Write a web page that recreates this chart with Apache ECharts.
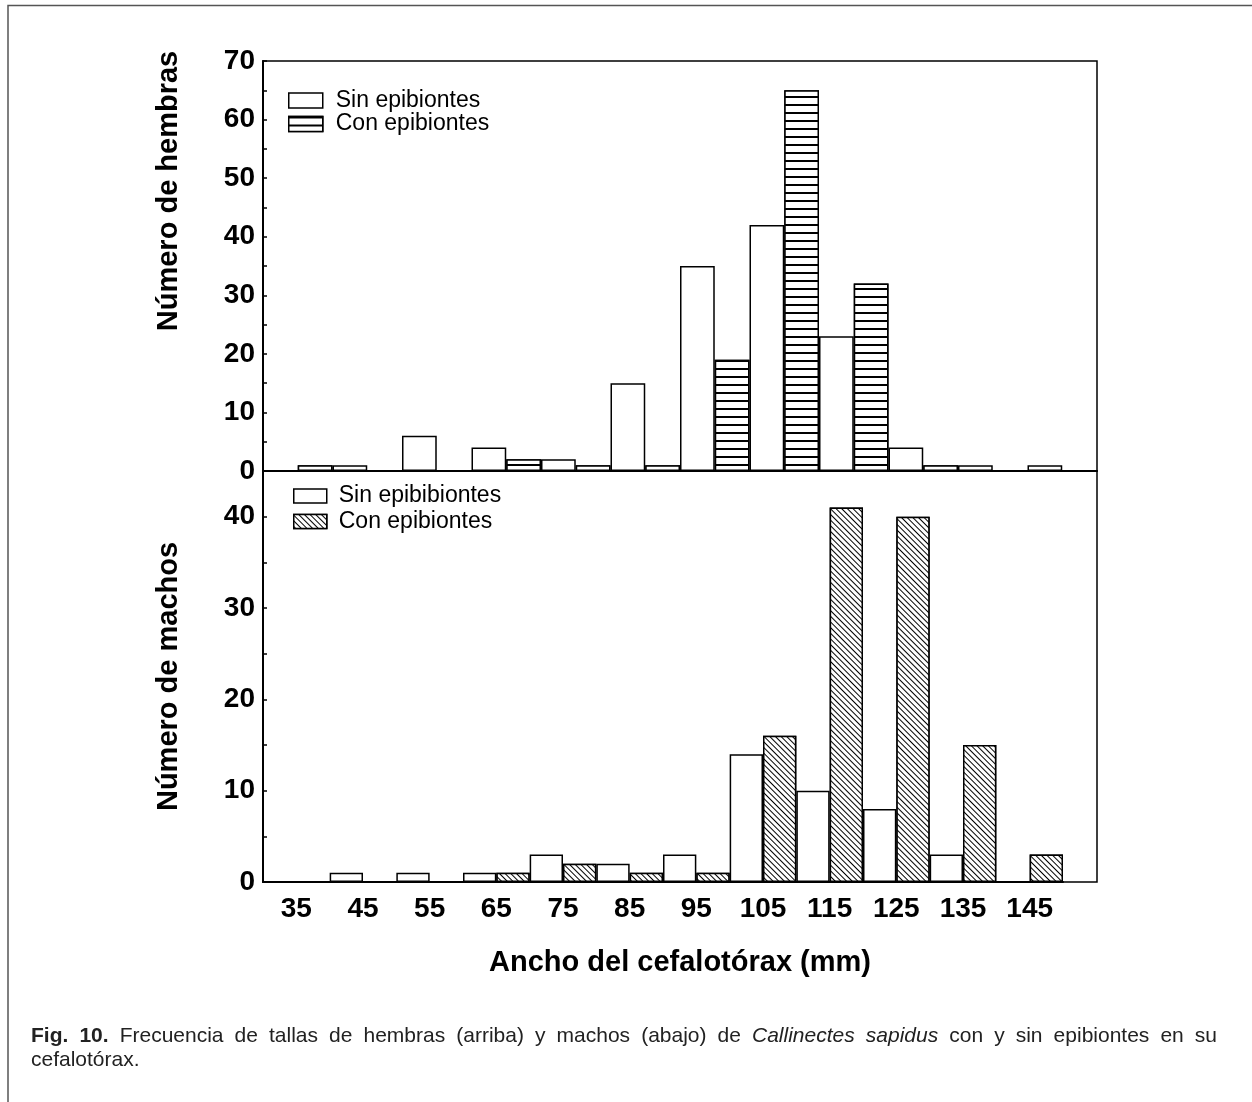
<!DOCTYPE html>
<html><head><meta charset="utf-8">
<script src="https://cdn.jsdelivr.net/npm/echarts@6/dist/echarts.min.js"></script>
<style>html,body{margin:0;padding:0;background:#fff}#c{width:1252px;height:1102px}</style>
</head><body><div id="c"></div>
<script>
// ---- data ----
const categories = ['35','45','55','65','75','85','95','105','115','125','135','145'];
const hembrasSin = [0, 1, 6, 4, 2, 15, 35, 42, 23, 4, 1, 1];
const hembrasCon = [1, 0, 0, 2, 1, 1, 19, 65, 32, 1, 0, 0];
const machosSin  = [0, 1, 1, 1, 3, 2, 3, 14, 10, 8, 3, 0];
const machosCon  = [0, 0, 0, 1, 2, 1, 1, 16, 41, 40, 15, 3];
const legendTop = ['Sin epibiontes', 'Con epibiontes'];
const legendBottom = ['Sin epibibiontes', 'Con epibiontes'];
const yTitleTop = 'Número de hembras';
const yTitleBottom = 'Número de machos';
const xTitle = 'Ancho del cefalotórax (mm)';
const captionLine1 = [['Fig.', 'bold'], ['10.', 'bold'], ['Frecuencia'], ['de'], ['tallas'], ['de'], ['hembras'],
  ['(arriba)'], ['y'], ['machos'], ['(abajo)'], ['de'], ['Callinectes', 'normal', 'italic'], ['sapidus', 'normal', 'italic'],
  ['con'], ['y'], ['sin'], ['epibiontes'], ['en'], ['su']];
const captionLine2 = 'cefalotórax.';

// ---- styles ----
const FONT = '"Liberation Sans", Arial, Helvetica, sans-serif';
const black = '#000';
const decalH = { symbol: 'rect', symbolSize: 1, color: '#000', backgroundColor: '#fff',
  dashArrayX: [1, 0], dashArrayY: [1.6, 5.2], rotation: 0 };
const decalD = { symbol: 'rect', symbolSize: 1, color: '#000', backgroundColor: '#fff',
  dashArrayX: [1, 0], dashArrayY: [1, 2.8], rotation: Math.PI / 4 };

const chart = echarts.init(document.getElementById('c'), null, { renderer: 'canvas' });

// justified caption words
const cv = document.createElement('canvas').getContext('2d');
const CAP_SIZE = 21;
function fontStr(w, s) { return `${s || 'normal'} ${w || 'normal'} ${CAP_SIZE}px ${FONT}`; }
const capLeft = 31, capRight = 1217;
let widths = captionLine1.map(t => { cv.font = fontStr(t[1], t[2]); return cv.measureText(t[0]).width; });
const totalW = widths.reduce((a, b) => a + b, 0);
const gap = (capRight - capLeft - totalW) / (captionLine1.length - 1);
const graphics = [];
let cx = capLeft;
captionLine1.forEach((t, i) => {
  graphics.push({ type: 'text', x: cx, y: 1036, silent: true,
    style: { text: t[0], font: fontStr(t[1], t[2]), fill: '#222', verticalAlign: 'middle', align: 'left' } });
  cx += widths[i] + gap;
});
graphics.push({ type: 'text', x: capLeft, y: 1060, silent: true,
  style: { text: captionLine2, font: fontStr(), fill: '#222', verticalAlign: 'middle', align: 'left' } });
// outer figure frame
graphics.push({ type: 'rect', silent: true, z: -1, shape: { x: 8, y: 5.5, width: 1400, height: 1300 },
  style: { fill: 'none', stroke: '#555', lineWidth: 1.5 } });

const axisLbl = { color: black, fontFamily: FONT, fontWeight: 'bold', fontSize: 28 };
const yBase = {
  type: 'value', min: 0, interval: 10,
  axisLine: { show: true, lineStyle: { color: black, width: 2 } },
  axisTick: { show: true, inside: true, length: 4, lineStyle: { color: black, width: 1.5 } },
  minorTick: { show: true, splitNumber: 2, length: 4, lineStyle: { color: black, width: 1.5 } },
  splitLine: { show: false },
  axisLabel: Object.assign({ margin: 8 }, axisLbl),
  nameLocation: 'middle', nameGap: 80,
};
const nameStyle = { color: black, fontFamily: FONT, fontWeight: 'bold', fontSize: 29 };

const barBase = { type: 'bar', barGap: '0%', barCategoryGap: '0%', silent: true,
  emphasis: { disabled: true } };

chart.setOption({
  backgroundColor: '#fff',
  animation: false,
  grid: [
    { left: 263, width: 834, top: 61, height: 410, show: true, borderColor: black, borderWidth: 1.5, backgroundColor: 'transparent' },
    { left: 263, width: 800, top: 471, height: 411, show: false },
    { left: 263, width: 834, top: 471, height: 411, show: true, borderColor: black, borderWidth: 1.5, backgroundColor: 'transparent' }
  ],
  legend: [
    { data: ['Sin epibiontes (H)', 'Con epibiontes (H)'], orient: 'vertical', left: 288, top: 89,
      itemWidth: 34, itemHeight: 15, itemGap: 0.5, padding: 0, icon: 'rect', selectedMode: false,
      formatter: n => n.indexOf('Sin') === 0 ? legendTop[0] : legendTop[1],
      itemStyle: { borderColor: black, borderWidth: 1.5 },
      textStyle: { color: black, fontFamily: FONT, fontSize: 23, lineHeight: 23, padding: [0, 0, 0, 8] } },
    { data: ['Sin epibiontes (M)', 'Con epibiontes (M)'], orient: 'vertical', left: 293, top: 484.5,
      itemWidth: 33, itemHeight: 14, itemGap: 2.5, padding: 0, icon: 'rect', selectedMode: false,
      formatter: n => n.indexOf('Sin') === 0 ? legendBottom[0] : legendBottom[1],
      itemStyle: { borderColor: black, borderWidth: 1.5 },
      textStyle: { color: black, fontFamily: FONT, fontSize: 23, lineHeight: 23, padding: [0, 0, 0, 7] } }
  ],
  xAxis: [
    { type: 'category', gridIndex: 0, data: categories,
      axisLine: { show: true, lineStyle: { color: black, width: 2 } },
      axisTick: { show: false }, axisLabel: { show: false } },
    { type: 'category', gridIndex: 1, data: categories,
      axisLine: { show: true, lineStyle: { color: black, width: 2 } },
      axisTick: { show: false }, axisLabel: Object.assign({ margin: 13, interval: 0 }, axisLbl) },
    { type: 'value', gridIndex: 2, min: 0, max: 1, show: true,
      axisLine: { show: false }, axisTick: { show: false }, axisLabel: { show: false }, splitLine: { show: false },
      name: xTitle, nameLocation: 'middle', nameGap: 66, nameTextStyle: nameStyle }
  ],
  yAxis: [
    Object.assign({}, yBase, { gridIndex: 0, max: 70, name: yTitleTop,
      nameTextStyle: Object.assign({ padding: [0, 0, 0, 150] }, nameStyle) }),
    Object.assign({}, yBase, { gridIndex: 1, max: 45, name: yTitleBottom, nameTextStyle: nameStyle,
      axisLabel: Object.assign({ margin: 8, showMaxLabel: false }, axisLbl) }),
    { type: 'value', gridIndex: 2, show: false, min: 0, max: 1 }
  ],
  series: [
    Object.assign({}, barBase, { name: 'Sin epibiontes (H)', xAxisIndex: 0, yAxisIndex: 0, data: hembrasSin,
      itemStyle: { color: '#fff', borderColor: black, borderWidth: 1.5 } }),
    Object.assign({}, barBase, { name: 'Con epibiontes (H)', xAxisIndex: 0, yAxisIndex: 0, data: hembrasCon,
      itemStyle: { color: '#fff', borderColor: black, borderWidth: 1.5, decal: decalH } }),
    Object.assign({}, barBase, { name: 'Sin epibiontes (M)', xAxisIndex: 1, yAxisIndex: 1, data: machosSin,
      itemStyle: { color: '#fff', borderColor: black, borderWidth: 1.5 } }),
    Object.assign({}, barBase, { name: 'Con epibiontes (M)', xAxisIndex: 1, yAxisIndex: 1, data: machosCon,
      itemStyle: { color: '#fff', borderColor: black, borderWidth: 1.5, decal: decalD } })
  ],
  graphic: graphics
});
</script></body></html>
